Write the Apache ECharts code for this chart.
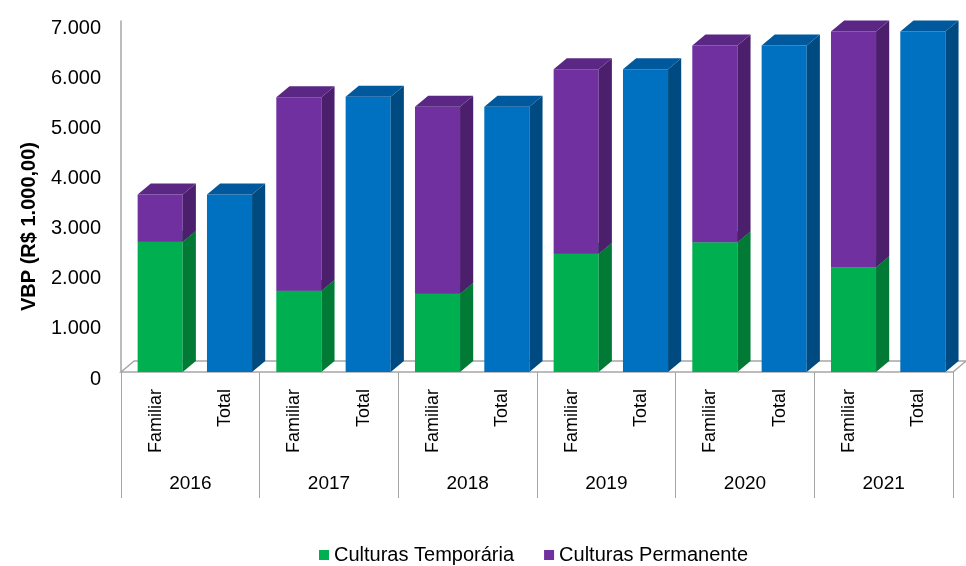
<!DOCTYPE html>
<html>
<head>
<meta charset="utf-8">
<script src="https://cdn.jsdelivr.net/npm/echarts@6/dist/echarts.min.js"></script>
<style>html,body{margin:0;padding:0;background:#fff;}#c{width:966px;height:566px;}</style>
</head>
<body>
<div id="c"></div>
<script>
// ---- data ----
const years = ['2016', '2017', '2018', '2019', '2020', '2021'];
const groups = ['Familiar', 'Total'];
const temporaria = [2600, 1620, 1560, 2360, 2590, 2090];   // Familiar, Culturas Temporária
const permanente = [940, 3860, 3730, 3680, 3920, 4700];    // Familiar, Culturas Permanente
const total = [3540, 5490, 5290, 6040, 6510, 6790];        // Total
const yTicks = ['0', '1.000', '2.000', '3.000', '4.000', '5.000', '6.000', '7.000'];

// build categories
const categories = [];
years.forEach(() => groups.forEach(g => categories.push(g)));

const tempData = years.map((y, i) => [i * 2, 0, temporaria[i]]);
const permData = years.map((y, i) => [i * 2, temporaria[i], temporaria[i] + permanente[i]]);
const totData = years.map((y, i) => [i * 2 + 1, 0, total[i]]);

const SANS = '"Liberation Sans", Arial, sans-serif';

function box(colors) {
  return function (params, api) {
    const cat = api.value(0);
    const p0 = api.coord([cat, api.value(1)]);
    const p1 = api.coord([cat, api.value(2)]);
    const bw = api.size([1, 0])[0];
    const w = bw * 0.65;
    const left = p0[0] - bw * 0.26;
    const right = left + w;
    const dx = bw * 0.19;
    const dy = 11;
    const yb = p0[1], yt = p1[1];
    return {
      type: 'group',
      children: [
        { type: 'rect', shape: { x: left, y: yt, width: w, height: yb - yt }, style: { fill: colors[0] } },
        { type: 'polygon', shape: { points: [[right, yt], [right + dx, yt - dy], [right + dx, yb - dy], [right, yb]] }, style: { fill: colors[1] } },
        { type: 'polygon', shape: { points: [[left, yt], [left + dx, yt - dy], [right + dx, yt - dy], [right, yt]] }, style: { fill: colors[2] } }
      ]
    };
  };
}

function floor(params, api) {
  const a = api.coord([0, 0]);
  const b = api.coord([categories.length - 1, 0]);
  const bw = api.size([1, 0])[0];
  const L = a[0] - bw / 2, R = b[0] + bw / 2, y = a[1];
  const dx = bw * 0.19, dy = 11;
  return {
    type: 'polygon',
    shape: { points: [[L, y], [L + dx, y - dy], [R + dx, y - dy], [R, y]] },
    style: { fill: 'none', stroke: '#a6a6a6', lineWidth: 1.5 },
    z2: -1
  };
}

const chart = echarts.init(document.getElementById('c'));
chart.setOption({
  animation: false,
  backgroundColor: '#fff',
  grid: { left: 121, right: 13, top: 21, bottom: 194 },
  legend: {
    data: ['Culturas Temporária', 'Culturas Permanente'],
    top: 540,
    left: 314,
    itemWidth: 10, itemHeight: 10, itemGap: 30,
    icon: 'rect',
    textStyle: { fontFamily: SANS, fontSize: 20, color: '#000' }
  },
  xAxis: [
    {
      type: 'category', data: categories, gridIndex: 0,
      axisLine: { show: false }, axisTick: { show: false },
      axisLabel: { rotate: 90, margin: 17, fontFamily: SANS, fontSize: 18, color: '#000', interval: 0 }
    },
    {
      type: 'category', data: years, gridIndex: 0, position: 'bottom',
      axisLine: { show: false },
      axisTick: { show: true, length: 126, lineStyle: { color: '#a6a6a6', width: 1 }, interval: 0 },
      axisLabel: { margin: 102, fontFamily: SANS, fontSize: 19, color: '#000', interval: 0 }
    }
  ],
  yAxis: {
    type: 'value', min: 0, max: 7000, interval: 1000,
    name: 'VBP (R$ 1.000,00)', nameLocation: 'middle', nameGap: 82,
    nameTextStyle: { fontFamily: SANS, fontSize: 20, fontWeight: 'bold', color: '#000', padding: [0, 60, 0, 0] },
    axisLine: { show: true, lineStyle: { color: '#a6a6a6', width: 1.5 } },
    axisTick: { show: false },
    splitLine: { show: false },
    axisLabel: {
      margin: 20, fontFamily: SANS, fontSize: 20, color: '#000',
      verticalAlign: 'top', lineHeight: 14,
      formatter: (v) => yTicks[Math.round(v / 1000)]
    }
  },
  series: [
    { type: 'custom', name: 'floor', renderItem: floor, data: [[0, 0]], silent: true, z: 1, xAxisIndex: 0 },
    { type: 'custom', name: 'Culturas Temporária', renderItem: box(['#00b050', '#007a35', '#00963f']), data: tempData, itemStyle: { color: '#00b050' }, encode: { x: 0, y: [1, 2] }, z: 2, xAxisIndex: 0 },
    { type: 'custom', name: 'Culturas Permanente', renderItem: box(['#7030a0', '#4c1f6d', '#5b2785']), data: permData, itemStyle: { color: '#7030a0' }, encode: { x: 0, y: [1, 2] }, z: 3, xAxisIndex: 0 },
    { type: 'custom', name: 'Total', renderItem: box(['#0070c0', '#004a82', '#00599c']), data: totData, itemStyle: { color: '#0070c0' }, encode: { x: 0, y: [1, 2] }, z: 2, xAxisIndex: 0 }
  ]
});
</script>
</body>
</html>
